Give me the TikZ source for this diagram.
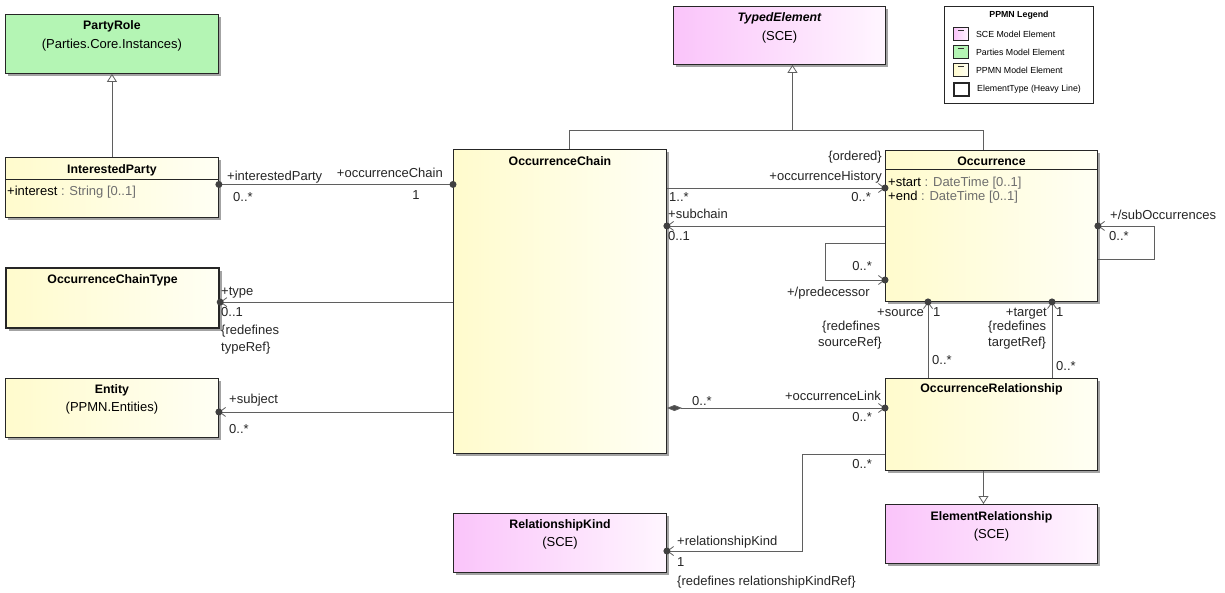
\documentclass[tikz,border=0pt]{standalone}
\usepackage{fontspec}
\setmainfont{Liberation Sans}
\usepackage{tikz}
\usetikzlibrary{positioning,shadows,arrows.meta,calc,decorations.markings}

\definecolor{sceL}{RGB}{250,196,250}
\definecolor{sceR}{RGB}{255,246,255}
\definecolor{ppmnL}{RGB}{255,251,205}
\definecolor{ppmnR}{RGB}{255,255,244}
\definecolor{partyC}{RGB}{180,245,180}
\definecolor{lineC}{RGB}{95,95,95}
\definecolor{attrC}{RGB}{110,110,110}

\tikzset{
  every node/.style={font=\fontsize{13}{15}\selectfont, inner sep=0pt},
  classbox/.style={draw=black!85, line width=0.9pt, anchor=north west,
    minimum width=213, minimum height=59,
    drop shadow={shadow xshift=2.5pt, shadow yshift=-2.5pt, fill=black!45, opacity=.8}},
  sce/.style={classbox, left color=sceL, right color=sceR},
  ppmn/.style={classbox, left color=ppmnL, right color=ppmnR},
  parties/.style={classbox, fill=partyC},
  elemtype/.style={ppmn, line width=2.2pt},
  ctitle/.style={font=\fontsize{12.3}{14}\selectfont\bfseries},
  lbl/.style={text height=9pt, text depth=2.5pt, text=black!85},
  line/.style={draw=lineC, line width=0.8pt},
  gen/.style={line, -{Triangle[open, length=8pt, width=10pt, fill=white]}},
  nav/.style={line, -{Straight Barb[length=6pt, width=9pt]},
    decoration={markings, mark=at position 1 with {\fill[black!75] circle (3.5pt);}},
    postaction=decorate},
  own/.style={line,
    decoration={markings,
      mark=at position 0 with {\fill[black!75] circle (3.5pt);},
      mark=at position 1 with {\fill[black!75] circle (3.5pt);}},
    postaction=decorate},
  comp/.style={nav, {Diamond[length=15pt, width=6pt, fill=black!70]}-{Straight Barb[length=6pt, width=9pt]}},
  legtext/.style={font=\fontsize{8.8}{10}\selectfont, anchor=west},
  swatch/.style={draw=black!85, line width=0.9pt, minimum width=15, minimum height=13, anchor=north west}
}

\begin{document}
\begin{tikzpicture}[x=1pt, y=-1pt]
\useasboundingbox[fill=white] (0,0) rectangle (1225,592);

% classes
\node[parties] (partyRole) at (5,14) {};
\node[ctitle] at ([yshift=-12pt]partyRole.north) {PartyRole};
\node at ([yshift=-31pt]partyRole.north) {(Parties.Core.Instances)};

\node[ppmn, minimum height=60] (interested) at (5,157) {};
\node[ctitle] at ([yshift=-13pt]interested.north) {InterestedParty};
\draw[black!85, line width=0.8pt] ([yshift=-22pt]interested.north west) -- ([yshift=-22pt]interested.north east);
\node[anchor=west] at ([xshift=2pt, yshift=-35pt]interested.north west) {+interest~\textcolor{attrC}{: String [0..1]}};

\node[elemtype, minimum height=60] (chainType) at (5,267) {};
\node[ctitle] at ([yshift=-13pt]chainType.north) {OccurrenceChainType};

\node[ppmn] (entity) at (5,378) {};
\node[ctitle] at ([yshift=-12pt]entity.north) {Entity};
\node at ([yshift=-30pt]entity.north) {(PPMN.Entities)};

\node[sce, minimum width=212, minimum height=58] (typed) at (673,6) {};
\node[ctitle, font=\fontsize{12.3}{14}\selectfont\bfseries\itshape] at ([yshift=-12pt]typed.north) {TypedElement};
\node at ([yshift=-31pt]typed.north) {(SCE)};

\node[ppmn, minimum height=304] (chain) at (453,149) {};
\node[ctitle] at ([yshift=-12pt]chain.north) {OccurrenceChain};

\node[ppmn, minimum width=212, minimum height=151] (occ) at (885,150) {};
\node[ctitle] at ([yshift=-11pt]occ.north) {Occurrence};
\draw[black!85, line width=0.8pt] ([yshift=-19pt]occ.north west) -- ([yshift=-19pt]occ.north east);
\node[anchor=west] at ([xshift=3pt, yshift=-33pt]occ.north west) {+start~\textcolor{attrC}{: DateTime [0..1]}};
\node[anchor=west] at ([xshift=3pt, yshift=-47pt]occ.north west) {+end~\textcolor{attrC}{: DateTime [0..1]}};

\node[ppmn, minimum width=212, minimum height=92] (rel) at (885,378) {};
\node[ctitle] at ([yshift=-11pt]rel.north) {OccurrenceRelationship};

\node[sce] (kind) at (453,513) {};
\node[ctitle] at ([yshift=-12pt]kind.north) {RelationshipKind};
\node at ([yshift=-30pt]kind.north) {(SCE)};

\node[sce, minimum width=212] (elemRel) at (885,504) {};
\node[ctitle] at ([yshift=-13pt]elemRel.north) {ElementRelationship};
\node at ([yshift=-31pt]elemRel.north) {(SCE)};

% legend
\node[draw=black!85, line width=0.9pt, minimum width=149, minimum height=97, anchor=north west] (legend) at (944,6) {};
\node[font=\fontsize{8.8}{10}\selectfont\bfseries] at ([yshift=-9pt]legend.north) {PPMN Legend};
\node[swatch, left color=sceL, right color=sceR] (swSce) at (953,27) {};
\node[swatch, fill=partyC] (swParty) at (953,45) {};
\node[swatch, left color=ppmnL, right color=ppmnR] (swPpmn) at (953,63) {};
\node[swatch, fill=white, line width=2pt] (swType) at (953,82) {};
\foreach \s in {swSce,swParty,swPpmn}
  \draw[black!80, line width=0.8pt] ([xshift=-3pt, yshift=-3.5pt]\s.north) -- ([xshift=3pt, yshift=-3.5pt]\s.north);
\node[legtext] at ([xshift=7pt]swSce.east) {SCE Model Element};
\node[legtext] at ([xshift=7pt]swParty.east) {Parties Model Element};
\node[legtext] at ([xshift=7pt]swPpmn.east) {PPMN Model Element};
\node[legtext] at ([xshift=7pt]swType.east) {ElementType (Heavy Line)};

% generalizations
\coordinate (bus) at ([xshift=13pt, yshift=-65pt]typed.south);
\draw[gen] (bus) -- ([xshift=13pt]typed.south);
\draw[line] ([xshift=9pt]chain.north) |- (bus) -| ([xshift=-8pt]occ.north);
\draw[gen] (interested.north) -- (partyRole.south);
\draw[gen] ([xshift=-8pt]rel.south) -- ([xshift=-8pt]elemRel.north);

% associations
\coordinate (ipEnd) at ([yshift=3pt]interested.east);
\draw[own] (ipEnd) -- (ipEnd -| chain.west);
\node[lbl, anchor=west] at (227,177) {+interestedParty};
\node[lbl, anchor=west] at (233,198) {0..*};
\node[lbl, anchor=east] at (443,174) {+occurrenceChain};
\node[lbl] at (416,196) {1};

\coordinate (typeEnd) at ([yshift=-4pt]chainType.east);
\draw[nav] (typeEnd -| chain.west) -- (typeEnd);
\node[lbl, anchor=west] at (221,292) {+type};
\node[lbl, anchor=west] at (221,313) {0..1};
\node[lbl, anchor=west] at (221,331) {\{redefines};
\node[lbl, anchor=west] at (221,348) {typeRef\}};

\coordinate (subjEnd) at ([yshift=-4pt]entity.east);
\draw[nav] (subjEnd -| chain.west) -- (subjEnd);
\node[lbl, anchor=west] at (229,400) {+subject};
\node[lbl, anchor=west] at (229,430) {0..*};

\coordinate (histEnd) at ([yshift=-38pt]occ.north west);
\draw[nav] (histEnd -| chain.east) -- (histEnd);
\node[lbl, anchor=east] at (882,157) {\{ordered\}};
\node[lbl, anchor=east] at (882,177) {+occurrenceHistory};
\node[lbl, anchor=west] at (669,198) {1..*};
\node[lbl, anchor=east] at (871,198) {0..*};

\draw[nav] (occ.west) -- (occ.west -| chain.east);
\node[lbl, anchor=west] at (668,215) {+subchain};
\node[lbl, anchor=west] at (668,237) {0..1};

\coordinate (predFrom) at ([yshift=-93pt]occ.north west);
\coordinate (predTo) at ([yshift=-130pt]occ.north west);
\draw[nav] (predFrom) -- ++(-60,0) |- (predTo);
\node[lbl, anchor=east] at (872,267) {0..*};
\node[lbl, anchor=east] at (870,293) {+/predecessor};

\coordinate (subFrom) at ([yshift=-109pt]occ.north east);
\draw[nav] (subFrom) -- ++(56,0) |- (occ.east);
\node[lbl, anchor=west] at (1110,216) {+/subOccurrences};
\node[lbl, anchor=west] at (1109,237) {0..*};

\draw[nav] ([xshift=43pt]rel.north west) -- ([xshift=43pt]occ.south west);
\node[lbl, anchor=east] at (924,313) {+source};
\node[lbl, anchor=west] at (933,313) {1};
\node[lbl, anchor=west] at (822,327) {\{redefines};
\node[lbl, anchor=west] at (818,343) {sourceRef\}};
\node[lbl, anchor=west] at (932,361) {0..*};

\draw[nav] ([xshift=167pt]rel.north west) -- ([xshift=167pt]occ.south west);
\node[lbl, anchor=east] at (1047,313) {+target};
\node[lbl, anchor=west] at (1056,313) {1};
\node[lbl, anchor=west] at (988,327) {\{redefines};
\node[lbl, anchor=west] at (988,343) {targetRef\}};
\node[lbl, anchor=west] at (1056,367) {0..*};

\coordinate (linkEnd) at ([yshift=-30pt]rel.north west);
\draw[comp] (linkEnd -| chain.east) -- (linkEnd);
\node[lbl, anchor=west] at (692,402) {0..*};
\node[lbl, anchor=east] at (881,397) {+occurrenceLink};
\node[lbl, anchor=east] at (872,418) {0..*};

\coordinate (kindFrom) at ([yshift=-76pt]rel.north west);
\coordinate (kindEnd) at ([yshift=-38pt]kind.north east);
\draw[nav] (kindFrom) -- ++(-83,0) |- (kindEnd);
\node[lbl, anchor=east] at (872,465) {0..*};
\node[lbl, anchor=west] at (677,542) {+relationshipKind};
\node[lbl, anchor=west] at (677,563) {1};
\node[lbl, anchor=west] at (677,582) {\{redefines relationshipKindRef\}};
\end{tikzpicture}
\end{document}
